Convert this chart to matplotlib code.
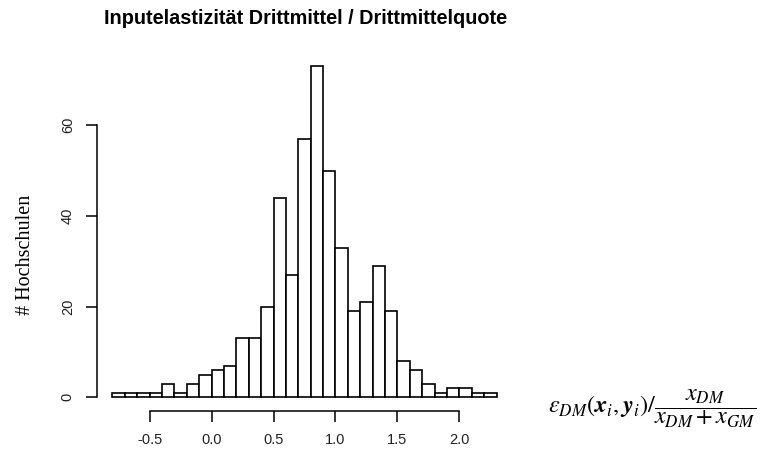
import matplotlib
matplotlib.use("Agg")
import matplotlib.pyplot as plt
import numpy as np

# Histogram data (bin left edges, width 0.1) and counts
bin_left = [-0.8, -0.7, -0.6, -0.5, -0.4, -0.3, -0.2, -0.1, 0.0, 0.1,
            0.2, 0.3, 0.4, 0.5, 0.6, 0.7, 0.8, 0.9, 1.0, 1.1,
            1.2, 1.3, 1.4, 1.5, 1.6, 1.7, 1.8, 1.9, 2.0, 2.1, 2.2]
counts = [1, 1, 1, 1, 3, 1, 3, 5, 6, 7,
          13, 13, 20, 44, 27, 57, 73, 50, 33, 19,
          21, 29, 19, 8, 6, 3, 1, 2, 2, 1, 1]
bin_width = 0.1

x_ticks = [-0.5, 0.0, 0.5, 1.0, 1.5, 2.0]
x_ticklabels = ["-0.5", "0.0", "0.5", "1.0", "1.5", "2.0"]
y_ticks = [0, 20, 40, 60]
y_ticklabels = ["0", "20", "40", "60"]

title = "Inputelastizität Drittmittel / Drittmittelquote"
ylabel = "# Hochschulen"
xlabel = r"$\varepsilon_{DM}(\mathbfit{x}_i,\mathbfit{y}_i)/\dfrac{x_{DM}}{x_{DM}+x_{GM}}$"

plt.rcParams["mathtext.fontset"] = "stix"

fig = plt.figure(figsize=(7.62, 4.5), dpi=100)
ax = fig.add_axes([97 / 762, 1 - 410.5 / 450, (512 - 97) / 762, (410.5 - 53) / 450])

ax.bar(bin_left, counts, width=bin_width, align="edge",
       facecolor="white", edgecolor="black", linewidth=1.2)

xmin, xmax = bin_left[0], bin_left[-1] + bin_width
xr = xmax - xmin
ymax = max(counts)
ax.set_xlim(xmin - 0.04 * xr, xmax + 0.04 * xr)
ax.set_ylim(-0.04 * ymax, ymax * 1.04)

for s in ["top", "right"]:
    ax.spines[s].set_visible(False)
ax.spines["left"].set_bounds(y_ticks[0], y_ticks[-1])
ax.spines["bottom"].set_bounds(x_ticks[0], x_ticks[-1])
for s in ["left", "bottom"]:
    ax.spines[s].set_linewidth(1.1)

ax.set_xticks(x_ticks)
ax.set_xticklabels(x_ticklabels, fontsize=10.5, family="Liberation Sans", color="#222222")
ax.set_yticks(y_ticks)
ax.set_yticklabels(y_ticklabels, fontsize=10.5, family="Liberation Sans", color="#222222",
                   rotation=90, va="center")
ax.tick_params(axis="both", direction="out", length=8, width=1.1, pad=8)

fig.text(306 / 762, 1 - 18 / 450, title, ha="center", va="center",
         fontsize=14.3, fontweight="bold", family="Liberation Sans")
fig.text(26 / 762, 1 - 255 / 450, ylabel, ha="center", va="center", rotation=90,
         fontsize=14.5, family="Liberation Serif")
fig.text(548 / 762, 1 - 409 / 450, xlabel, ha="left", va="center", fontsize=17.5)

fig.savefig("out.png", dpi=100)
